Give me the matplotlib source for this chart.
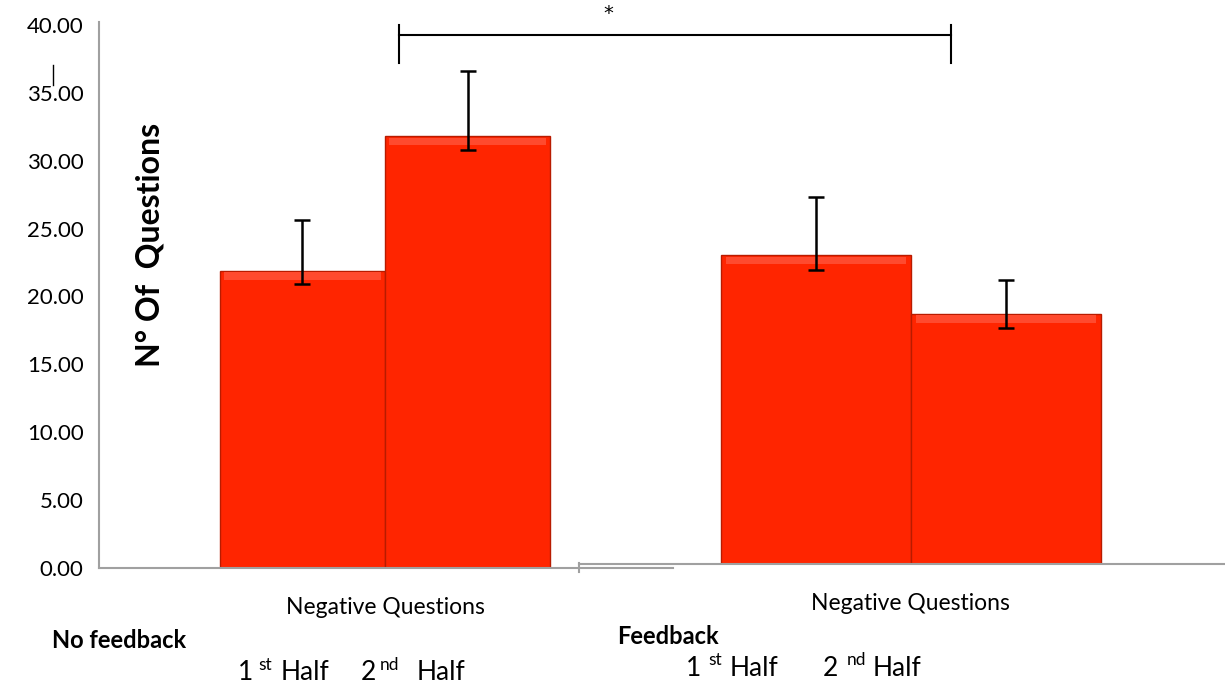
import matplotlib
matplotlib.use("Agg")
import matplotlib.pyplot as plt
from matplotlib.lines import Line2D

plt.rcParams['font.family'] = ['Lato', 'DejaVu Sans']

# data
groups = ['No feedback', 'Feedback']
category = 'Negative Questions'
halves = ['1st Half', '2nd Half']
means = {'No feedback': [21.9, 31.8], 'Feedback': [22.7, 18.4]}
err_low = {'No feedback': [20.9, 30.8], 'Feedback': [21.6, 17.35]}
err_high = {'No feedback': [25.6, 36.6], 'Feedback': [27.0, 20.9]}
yticks = [0, 5, 10, 15, 20, 25, 30, 35, 40]

W, H = 1225, 691
fig = plt.figure(figsize=(W / 100, H / 100), dpi=100)


def px_axes(x0, x1, ybase, ytop):
    return fig.add_axes([x0 / W, (H - ybase) / H, (x1 - x0) / W, (ybase - ytop) / H])


bar_color = '#FF2500'
edge_color = '#B81B00'
grey = '#A0A0A0'

# left chart (no feedback), bars 165 px wide
axL = px_axes(99, 673, 568, 25)
# right chart (feedback), a bit lower baseline
axR = px_axes(579, 1225, 563.5, 20.5)

specs = [(axL, 'No feedback', (-1.733, 1.745)), (axR, 'Feedback', (-1.747, 1.653))]
for ax, g, xl in specs:
    m = means[g]
    lo = [a - b for a, b in zip(m, err_low[g])]
    hi = [b - a for a, b in zip(m, err_high[g])]
    xs = [-0.5, 0.5]
    ax.bar(xs, m, width=1.0, color=bar_color, edgecolor=edge_color, linewidth=1, zorder=2)
    # soft bevel along the top of each bar
    ax.bar(xs, [0.55] * 2, bottom=[v - 0.65 for v in m], width=0.95,
           color='#FF4A2E', linewidth=0, zorder=2.5)
    ax.errorbar(xs, m, yerr=[lo, hi], fmt='none', ecolor='black', elinewidth=1.8,
                capsize=6, capthick=1.8, zorder=3)
    ax.set_xlim(*xl)
    ax.set_ylim(0, 40)
    ax.set_xticks([0])
    ax.set_xticklabels([category], fontsize=16.5)
    ax.tick_params(axis='x', length=0, pad=21)
    for s in ['top', 'right']:
        ax.spines[s].set_visible(False)
    ax.spines['bottom'].set_color(grey)
    ax.spines['bottom'].set_linewidth(1.5)
    ax.patch.set_alpha(0)

axL.set_yticks(yticks)
axL.set_yticklabels([f'{v:.2f}' for v in yticks], fontsize=16)
axL.tick_params(axis='y', length=0, pad=11)
axL.spines['left'].set_color(grey)
axL.spines['left'].set_linewidth(1.5)
axL.spines['left'].set_bounds(0, 40.2)

axR.spines['left'].set_visible(False)
axR.set_yticks([])
# small tick at the start of the right baseline
fig.add_artist(Line2D([579 / W, 579 / W], [(H - 563) / H, (H - 572) / H],
                      color=grey, lw=1.5))

fig.text(150 / W, (H - 245) / H, 'N° Of  Questions', rotation=90, fontsize=23,
         fontweight='bold', ha='center', va='center')

# significance bracket
bx0, bx1, by, bt, bb = 399, 951, 35, 25, 63
fig.add_artist(Line2D([bx0 / W, bx1 / W], [(H - by) / H, (H - by) / H], color='black', lw=1.5))
for bx in (bx0, bx1):
    fig.add_artist(Line2D([bx / W, bx / W], [(H - bt) / H, (H - bb) / H], color='black', lw=1.5))
fig.text(608 / W, (H - 14) / H, '*', fontsize=14, ha='center', va='center',
         family='DejaVu Sans')

# stray mark near the y axis
fig.add_artist(Line2D([53 / W, 53 / W], [(H - 65) / H, (H - 85) / H], color='black', lw=1))

# group labels
fig.text(52 / W, (H - 641) / H, groups[0], fontsize=17, fontweight='bold', va='center')
fig.text(617 / W, (H - 636) / H, groups[1], fontsize=17, fontweight='bold', va='center')


def half_label(x, y, num, sup, xs, xh):
    fig.text(x / W, (H - y) / H, num, fontsize=19, va='center')
    fig.text(xs / W, (H - y + 8) / H, sup, fontsize=12.5, va='center')
    fig.text(xh / W, (H - y) / H, 'Half', fontsize=19, va='center')


half_label(238, 673, '1', halves[0][1:3], 258, 281)
half_label(361, 673, '2', halves[1][1:3], 380, 417)
half_label(686, 668, '1', halves[0][1:3], 708, 730)
half_label(823, 668, '2', halves[1][1:3], 847, 873)

fig.savefig('out.png', dpi=100)
